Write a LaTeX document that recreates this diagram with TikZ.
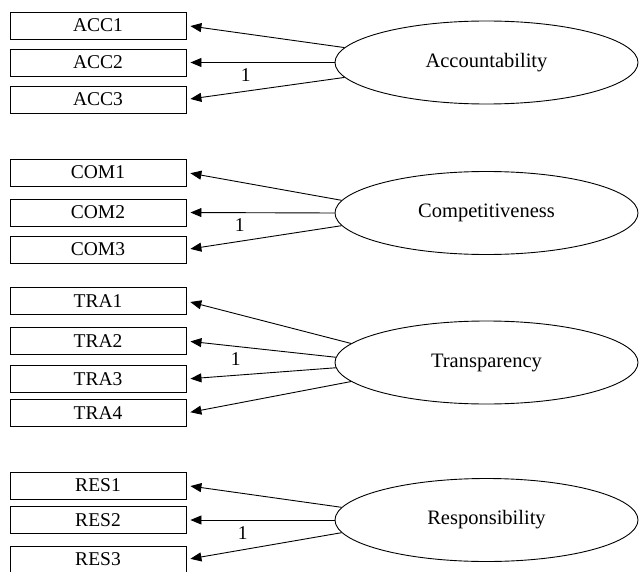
\documentclass[tikz,border=0pt]{standalone}
\usepackage{fontspec}
\setmainfont{Liberation Serif}
\usetikzlibrary{shapes.geometric,arrows.meta}

\begin{document}
\begin{tikzpicture}[x=1pt,y=-1pt,
    font=\fontsize{19.5}{23}\selectfont,
    item/.style={draw,line width=0.9pt,minimum width=176pt,minimum height=27pt,inner sep=0pt},
    factor/.style={draw,ellipse,line width=0.9pt,minimum width=303pt,minimum height=83pt,inner sep=0pt,
        font=\fontsize{20.5}{24}\selectfont},
    load/.style={-{Triangle[length=11pt,width=9pt]},line width=0.9pt,shorten >=4pt},
    fix/.style={below=2.5pt}]
    \useasboundingbox (0,0) rectangle (639,572);

    % 潜变量
    \node[factor] (acc) at (486.5,62.5) {Accountability};
    \node[factor] (com) at (486.5,213) {Competitiveness};
    \node[factor] (tra) at (486.5,362.5) {Transparency};
    \node[factor] (res) at (486.5,520) {Responsibility};

    % 观测变量
    \node[item] (acc1) at (98,25.5) {ACC1};
    \node[item] (acc2) at (98,62.5) {ACC2};
    \node[item] (acc3) at (98,99.5) {ACC3};

    \node[item] (com1) at (98,172.5) {COM1};
    \node[item] (com2) at (98,212.5) {COM2};
    \node[item] (com3) at (98,249.5) {COM3};

    \node[item] (tra1) at (98,301) {TRA1};
    \node[item] (tra2) at (98,341) {TRA2};
    \node[item] (tra3) at (98,379) {TRA3};
    \node[item] (tra4) at (98,413) {TRA4};

    \node[item] (res1) at (98,485.5) {RES1};
    \node[item] (res2) at (98,520) {RES2};
    \node[item] (res3) at (98,559.5) {RES3};

    % 因子载荷（第二个指标固定为 1）
    \draw[load] (acc.174) -- (acc1.east);
    \draw[load] (acc.180) -- (acc2.east) node[pos=0.6,fix] {1};
    \draw[load] (acc.186) -- (acc3.east);

    \draw[load] (com.175) -- (com1.east);
    \draw[load] (com.180) -- (com2.east) node[pos=0.64,fix] {1};
    \draw[load] (com.185) -- (com3.east);

    \draw[load] (tra.172) -- (tra1.east);
    \draw[load] (tra.178) -- (tra2.east) node[pos=0.67,fix] {1};
    \draw[load] (tra.182) -- (tra3.east);
    \draw[load] (tra.188) -- (tra4.east);

    \draw[load] (res.175) -- (res1.east);
    \draw[load] (res.180) -- (res2.east) node[pos=0.62,fix] {1};
    \draw[load] (res.185) -- (res3.east);
\end{tikzpicture}
\end{document}
